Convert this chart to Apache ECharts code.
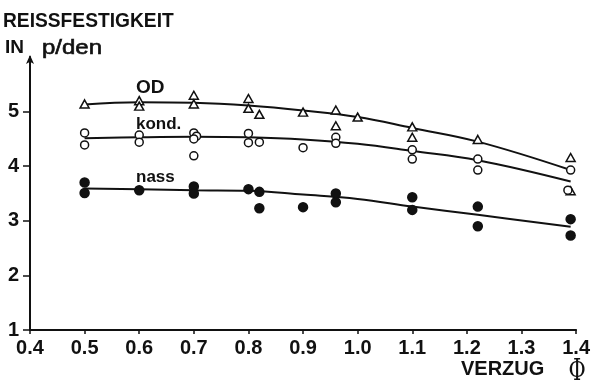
<!DOCTYPE html>
<html>
<head>
<meta charset="utf-8">
<script src="https://cdn.jsdelivr.net/npm/echarts@6/dist/echarts.min.js"></script>
<style>
  html, body { margin: 0; padding: 0; background: #fff; }
  #chart { width: 593px; height: 390px; }
</style>
</head>
<body>
<div id="chart"></div>
<script>
// Tensile strength (p/den) against draw ratio, three conditioning states.
const yTickValues = [1, 2, 3, 4, 5];

// measured points [Verzug, Reissfestigkeit]
const odPoints = [
  [0.5, 5.14], [0.6, 5.20], [0.6, 5.10], [0.7, 5.30], [0.7, 5.14],
  [0.8, 5.24], [0.8, 5.06], [0.82, 4.95], [0.9, 4.99], [0.96, 5.03],
  [0.96, 4.74], [1.0, 4.90], [1.1, 4.72], [1.1, 4.53], [1.22, 4.49],
  [1.39, 4.16], [1.39, 3.55]
];
const kondPoints = [
  [0.5, 4.61], [0.5, 4.39], [0.6, 4.57], [0.6, 4.44], [0.7, 4.61],
  [0.705, 4.55], [0.7, 4.50], [0.7, 4.19], [0.8, 4.60], [0.8, 4.43],
  [0.82, 4.44], [0.9, 4.34], [0.96, 4.53], [0.96, 4.42], [1.1, 4.30],
  [1.1, 4.13], [1.22, 4.13], [1.22, 3.93], [1.39, 3.93], [1.385, 3.56]
];
const nassPoints = [
  [0.5, 3.70], [0.5, 3.51], [0.6, 3.56], [0.7, 3.63], [0.7, 3.50],
  [0.8, 3.58], [0.82, 3.53], [0.82, 3.23], [0.9, 3.25], [0.96, 3.50],
  [0.96, 3.34], [1.1, 3.43], [1.1, 3.20], [1.22, 3.26], [1.22, 2.90],
  [1.39, 3.03], [1.39, 2.73]
];

// fitted curves
const odCurve = [
  [0.5, 5.13], [0.6, 5.17], [0.7, 5.16], [0.8, 5.11], [0.9, 5.02],
  [1.0, 4.90], [1.1, 4.70], [1.22, 4.45], [1.39, 3.93]
];
const kondCurve = [
  [0.5, 4.51], [0.6, 4.53], [0.7, 4.54], [0.8, 4.53], [0.9, 4.49],
  [1.0, 4.41], [1.1, 4.28], [1.22, 4.11], [1.39, 3.72]
];
const nassCurve = [
  [0.5, 3.59], [0.6, 3.58], [0.7, 3.56], [0.8, 3.55], [0.9, 3.48],
  [1.0, 3.40], [1.1, 3.26], [1.22, 3.11], [1.39, 2.89]
];

const INK = '#111';
const FONT = '"Liberation Sans", Arial, sans-serif';

function curve(data) {
  return {
    type: 'line', data: data, smooth: 0.4, showSymbol: false, z: 2,
    lineStyle: { color: INK, width: 2 }, silent: true
  };
}
function marks(data, symbol, size, filled) {
  return {
    type: 'scatter', data: data, symbol: symbol, symbolSize: size, z: 3,
    itemStyle: { color: filled ? INK : '#fff', borderColor: INK, borderWidth: 1.5, opacity: 1 }
  };
}
function label(text, x, y, size, extra, elProps) {
  return Object.assign({
    type: 'text', x: x, y: y, z: 10,
    style: Object.assign({
      text: text, fill: INK, font: 'bold ' + size + 'px ' + FONT,
      align: 'left', verticalAlign: 'middle'
    }, extra || {})
  }, elProps || {});
}

const chart = echarts.init(document.getElementById('chart'), null, { renderer: 'canvas' });
chart.setOption({
  backgroundColor: '#fff',
  animation: false,
  grid: { left: 30, right: 16, top: 57, bottom: 60, containLabel: false },
  xAxis: {
    type: 'value', min: 0.4, max: 1.4, interval: 0.1,
    splitLine: { show: false },
    axisLine: { lineStyle: { color: INK, width: 2 } },
    axisTick: { length: 4, lineStyle: { color: INK, width: 1.5 } },
    axisLabel: {
      color: INK, fontFamily: FONT, fontWeight: 'bold', fontSize: 20, margin: 8,
      formatter: v => v.toFixed(1)
    }
  },
  yAxis: {
    type: 'value', min: 1, max: 6, interval: 1,
    splitLine: { show: false },
    axisLine: {
      show: true, onZero: false,
      symbol: ['none', 'arrow'], symbolSize: [6, 9], symbolOffset: [0, 2],
      lineStyle: { color: INK, width: 2 }
    },
    axisTick: { length: 7, customValues: yTickValues, lineStyle: { color: INK, width: 1.5 } },
    axisLabel: {
      color: INK, fontFamily: FONT, fontWeight: 'bold', fontSize: 20, margin: 11,
      customValues: yTickValues
    }
  },
  series: [
    curve(odCurve), curve(kondCurve), curve(nassCurve),
    marks(odPoints, 'triangle', [9, 8], false),
    marks(kondPoints, 'circle', 8, false),
    marks(nassPoints, 'circle', 9, true)
  ],
  graphic: [
    label('REISSFESTIGKEIT', 3, 21, 20, null, { scaleX: 0.96 }),
    label('IN', 5, 48, 19),
    label('p/den', 42, 48, 20, { font: '20px ' + FONT, stroke: INK, lineWidth: 0.6 }, { scaleX: 1.2 }),
    label('OD', 136, 88, 19),
    label('kond.', 136, 124, 17),
    label('nass', 136, 177, 17),
    label('VERZUG', 461, 369, 20),
    label('\u03A6', 577, 372, 30, { align: 'center', font: '30px "DejaVu Serif", serif' }, { scaleX: 0.7 })
  ]
});
</script>
</body>
</html>
